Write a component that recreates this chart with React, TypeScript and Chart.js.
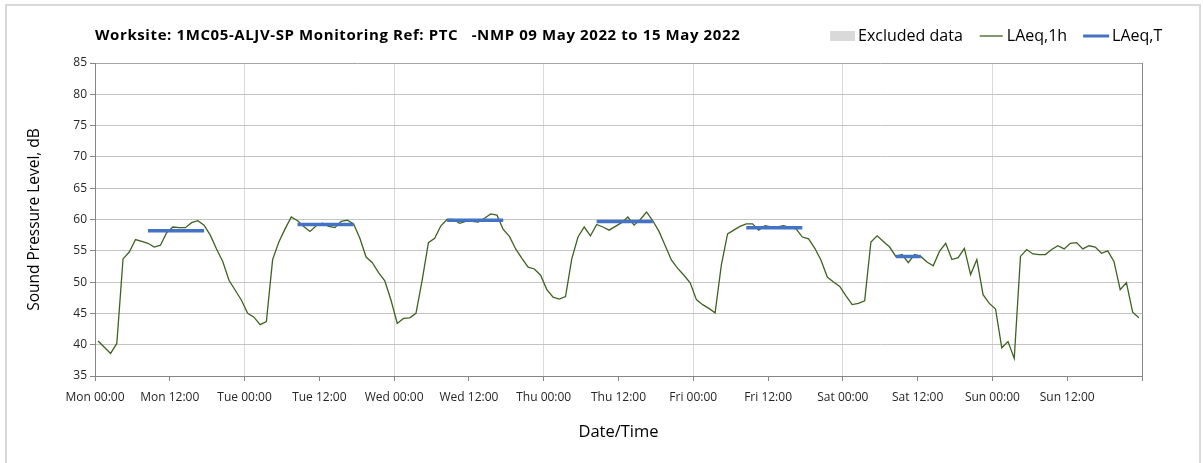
import React, { useEffect, useRef } from 'react';
import { Chart, registerables } from 'chart.js';

Chart.register(...registerables);

const titleText = 'Worksite: 1MC05-ALJV-SP Monitoring Ref: PTC   -NMP 09 May 2022 to 15 May 2022';
const xTitle = 'Date/Time';
const yTitle = 'Sound Pressure Level, dB';

const tickLabels = [
  'Mon 00:00', 'Mon 12:00', 'Tue 00:00', 'Tue 12:00', 'Wed 00:00', 'Wed 12:00', 'Thu 00:00',
  'Thu 12:00', 'Fri 00:00', 'Fri 12:00', 'Sat 00:00', 'Sat 12:00', 'Sun 00:00', 'Sun 12:00',
];

// Hourly LAeq,1h values, Mon 00:00 .. Sun 23:00
const laeq1h = [
  40.6, 39.6, 38.6, 40.2, 53.7, 54.8, 56.8, 56.5, 56.2, 55.6, 55.9, 57.9,
  58.8, 58.7, 58.7, 59.5, 59.8, 59.1, 57.5, 55.3, 53.3, 50.3, 48.7, 47.1,
  45.0, 44.4, 43.2, 43.7, 53.6, 56.4, 58.5, 60.4, 59.8, 58.9, 58.1, 59.0,
  59.4, 58.9, 58.7, 59.7, 59.9, 59.3, 57.0, 54.0, 53.1, 51.5, 50.2, 47.1,
  43.4, 44.2, 44.3, 45.0, 50.3, 56.3, 57.0, 59.0, 60.0, 60.0, 59.4, 59.7,
  59.7, 59.6, 60.2, 60.9, 60.7, 58.4, 57.3, 55.3, 53.8, 52.4, 52.1, 51.1,
  48.8, 47.6, 47.3, 47.7, 53.7, 57.2, 58.8, 57.4, 59.2, 58.8, 58.3, 58.9,
  59.5, 60.4, 59.1, 60.0, 61.2, 59.8, 58.1, 55.8, 53.5, 52.2, 51.1, 49.9,
  47.2, 46.4, 45.8, 45.1, 52.7, 57.7, 58.3, 58.9, 59.3, 59.3, 58.3, 59.0,
  58.8, 58.8, 59.0, 58.7, 58.5, 57.2, 56.9, 55.4, 53.5, 50.8, 50.0, 49.3,
  47.8, 46.4, 46.6, 47.0, 56.4, 57.4, 56.5, 55.6, 54.1, 54.4, 53.1, 54.4,
  54.1, 53.2, 52.6, 54.9, 56.2, 53.6, 53.9, 55.4, 51.2, 53.6, 48.0, 46.6,
  45.7, 39.5, 40.5, 37.8, 54.1, 55.2, 54.5, 54.4, 54.4, 55.2, 55.8, 55.3,
  56.2, 56.3, 55.3, 55.8, 55.6, 54.6, 55.0, 53.3, 48.8, 49.9, 45.2, 44.3,
];

// LAeq,T daytime periods (first and last hour index) and levels
const periodStart = [8, 32, 56, 80, 104, 128];
const periodEnd = [17, 41, 65, 89, 113, 132];
const periodLevel = [58.2, 59.2, 59.9, 59.7, 58.7, 54.1];

const legendLabels = ['Excluded data', 'LAeq,1h', 'LAeq,T'];

const GREEN = '#3F6221';
const BLUE = '#4472C4';
const FONT = "'Open Sans', sans-serif";

export default function App() {
  const ref = useRef<HTMLCanvasElement | null>(null);

  useEffect(() => {
    if (!ref.current) return;
    const lineData = laeq1h.map((v, i) => ({ x: i + 0.5, y: v }));
    const periodData: { x: number; y: number | null }[] = [];
    periodStart.forEach((s, k) => {
      for (let h = s; h <= periodEnd[k]; h++) periodData.push({ x: h + 0.5, y: periodLevel[k] });
      periodData.push({ x: periodEnd[k] + 1, y: null });
    });

    const header = {
      id: 'header',
      beforeDraw(chart: any) {
        const ctx = chart.ctx;
        ctx.save();
        ctx.fillStyle = '#ffffff';
        ctx.fillRect(0, 0, chart.width, chart.height);
        ctx.strokeStyle = '#D9D9D9';
        ctx.lineWidth = 2;
        ctx.beginPath();
        ctx.moveTo(6, 480);
        ctx.lineTo(6, 5);
        ctx.lineTo(1200, 5);
        ctx.lineTo(1200, 480);
        ctx.stroke();
        ctx.restore();
      },
      afterDraw(chart: any) {
        const ctx = chart.ctx;
        ctx.save();
        ctx.textBaseline = 'middle';
        ctx.fillStyle = '#000';
        ctx.font = `bold 15px ${FONT}`;
        (ctx as any).letterSpacing = '0.6px';
        ctx.fillText(titleText, 95, 36);
        (ctx as any).letterSpacing = '0px';
        ctx.font = `16px ${FONT}`;
        let x = 830;
        const y = 36;
        ctx.fillStyle = '#D9D9D9';
        ctx.fillRect(x, y - 5, 25, 10);
        x += 28;
        ctx.fillStyle = '#000';
        ctx.fillText(legendLabels[0], x, y);
        x += ctx.measureText(legendLabels[0]).width + 17;
        ctx.strokeStyle = GREEN;
        ctx.lineWidth = 1.3;
        ctx.beginPath();
        ctx.moveTo(x, y);
        ctx.lineTo(x + 23, y);
        ctx.stroke();
        x += 27;
        ctx.fillText(legendLabels[1], x, y);
        x += ctx.measureText(legendLabels[1]).width + 16;
        ctx.strokeStyle = BLUE;
        ctx.lineWidth = 3;
        ctx.beginPath();
        ctx.moveTo(x, y);
        ctx.lineTo(x + 26, y);
        ctx.stroke();
        x += 29;
        ctx.fillText(legendLabels[2], x, y);
        ctx.restore();
      },
    };

    const chart = new Chart(ref.current, {
      type: 'line',
      data: {
        datasets: [
          {
            label: legendLabels[2],
            data: periodData,
            borderColor: BLUE,
            borderWidth: 3.5,
            pointRadius: 0,
            spanGaps: false,
            borderCapStyle: 'butt',
          },
          {
            label: legendLabels[1],
            data: lineData,
            borderColor: GREEN,
            borderWidth: 1.3,
            pointRadius: 0,
            tension: 0,
          },
        ],
      },
      options: {
        animation: false,
        responsive: false,
        layout: { padding: { top: 63, right: 61, bottom: 0, left: 0 } },
        plugins: { legend: { display: false }, title: { display: false }, tooltip: { enabled: false } },
        scales: {
          x: {
            type: 'linear',
            min: 0,
            max: 168,
            afterFit: (s: any) => { s.height = 87; },
            afterBuildTicks: (s: any) => {
              const t = [];
              for (let v = 0; v <= 168; v += 12) t.push({ value: v });
              s.ticks = t;
            },
            ticks: {
              autoSkip: false,
              maxRotation: 0,
              padding: 9,
              color: '#262626',
              font: { family: FONT, size: 12 },
              callback: (v: any) => tickLabels[Math.round(Number(v) / 12)] ?? '',
            },
            grid: {
              color: (c: any) => {
                const v = c.tick ? c.tick.value : 0;
                if (v === 168) return '#868686';
                if (v % 24 === 0 && v !== 0) return '#D9D9D9';
                return 'rgba(0,0,0,0)';
              },
              tickColor: '#868686',
              tickLength: 5,
              lineWidth: 1,
            },
            border: { color: '#868686', width: 1 },
            title: {
              display: true,
              text: xTitle,
              color: '#000',
              font: { family: FONT, size: 16.5 },
              padding: { top: 0, bottom: 21 },
            },
          },
          y: {
            min: 35,
            max: 85,
            afterFit: (s: any) => { s.width = 95; },
            ticks: {
              stepSize: 5,
              padding: 3,
              color: '#262626',
              font: { family: FONT, size: 12 },
            },
            grid: {
              color: (c: any) => (c.tick && c.tick.value === 85 ? '#A6A6A6' : '#C4C4C4'),
              tickColor: '#868686',
              tickLength: 5,
            },
            border: { color: '#868686', width: 1 },
            title: {
              display: true,
              text: yTitle,
              color: '#000',
              font: { family: FONT, size: 15.5 },
              padding: { top: 25, bottom: 0 },
            },
          },
        },
      },
      plugins: [header],
    } as any);
    return () => chart.destroy();
  }, []);

  return (
    <div style={{ position: 'fixed', left: 0, top: 0, width: 1203, height: 463, background: '#fff' }}>
      <canvas ref={ref} width={1203} height={463} style={{ display: 'block' }} />
    </div>
  );
}
